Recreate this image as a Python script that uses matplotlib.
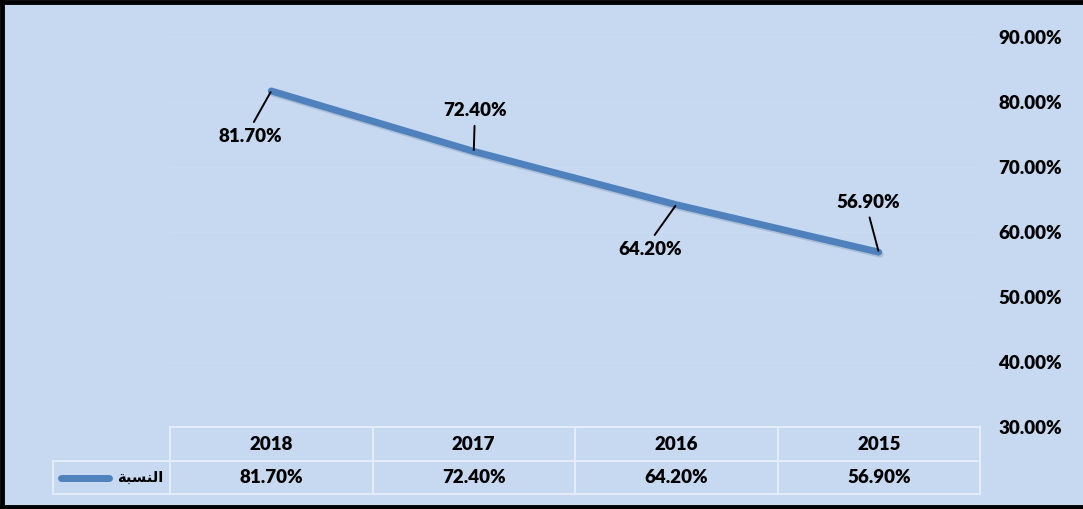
import matplotlib
matplotlib.use("Agg")
import matplotlib.pyplot as plt
from matplotlib.transforms import blended_transform_factory
from matplotlib.lines import Line2D
import matplotlib.patheffects as pe

categories = ["2018", "2017", "2016", "2015"]
values = [81.7, 72.4, 64.2, 56.9]
value_labels = ["81.70%", "72.40%", "64.20%", "56.90%"]
yticks = [30, 40, 50, 60, 70, 80, 90]
ytick_labels = ["30.00%", "40.00%", "50.00%", "60.00%", "70.00%", "80.00%", "90.00%"]
series_name = "\uFE94\uFE92\uFEB4\uFEE8\uFEDF\u0627"  # النسبة (shaped for display)

W, H = 1083, 509
BG = "#C6D9F1"
LINE = "#4F81BD"
GRIDC = "#CADCF2"
TABLEC = "#E3ECF8"
FONT = "Lato"
FS = 13.5
FW = "heavy"

fig = plt.figure(figsize=(W / 100, H / 100), dpi=100)
fig.patch.set_facecolor(BG)

ax = fig.add_axes([170 / W, (H - 427) / H, (980 - 170) / W, (427 - 37) / H])
ax.set_facecolor(BG)
for s in ax.spines.values():
    s.set_visible(False)

x = list(range(len(categories)))
ax.plot(x, values, color=LINE, lw=5, solid_capstyle="round", solid_joinstyle="round",
        path_effects=[pe.SimpleLineShadow(offset=(1, -1.5), shadow_color="#7A8CA8", alpha=0.35),
                      pe.Normal()], zorder=3)
ax.set_xlim(-0.5, len(categories) - 0.5)
ax.set_ylim(30, 90)
ax.set_xticks([])
ax.set_yticks(yticks)
ax.set_yticklabels(ytick_labels, fontsize=FS, fontweight=FW, family=FONT)
ax.yaxis.tick_right()
ax.tick_params(axis="y", length=0, pad=13)
ax.grid(axis="y", color=GRIDC, lw=1)
ax.set_axisbelow(True)

offsets = [(-21, -46), (1, 41), (-26, -45), (-11, 50)]
for xi, v, lab, off in zip(x, values, value_labels, offsets):
    up = off[1] > 0
    ax.annotate(lab, xy=(xi, v), xytext=off, textcoords="offset pixels",
                ha="center", va="center", fontsize=FS, fontweight=FW, family=FONT,
                arrowprops=dict(arrowstyle="-", color="black", lw=1.4,
                                relpos=(0.5, 0.0) if up else (0.5, 1.0),
                                shrinkA=3, shrinkB=1), zorder=4)

# data table below
tr = blended_transform_factory(ax.transData, fig.transFigure)
fy = lambda py: (H - py) / H
fx = lambda px: px / W
row_top, row_mid, row_bot = 427, 461, 494
left_name = 53
edges = [i - 0.5 for i in range(len(categories) + 1)]
fig.add_artist(Line2D([edges[0], edges[-1]], [fy(row_top)] * 2, transform=tr, color=TABLEC, lw=1.5))
fig.add_artist(Line2D([fx(left_name), fx(980)], [fy(row_mid)] * 2, transform=fig.transFigure, color=TABLEC, lw=1.5))
fig.add_artist(Line2D([fx(left_name), fx(980)], [fy(row_bot)] * 2, transform=fig.transFigure, color=TABLEC, lw=1.5))
for e in edges:
    fig.add_artist(Line2D([e, e], [fy(row_top), fy(row_bot)], transform=tr, color=TABLEC, lw=1.5))
fig.add_artist(Line2D([fx(left_name)] * 2, [fy(row_mid), fy(row_bot)], transform=fig.transFigure, color=TABLEC, lw=1.5))
for xi, c, lab in zip(x, categories, value_labels):
    fig.text(xi, fy((row_top + row_mid) / 2), c, transform=tr, ha="center", va="center",
             fontsize=FS, fontweight=FW, family=FONT)
    fig.text(xi, fy((row_mid + row_bot) / 2), lab, transform=tr, ha="center", va="center",
             fontsize=FS, fontweight=FW, family=FONT)
ym = fy((row_mid + row_bot) / 2)
fig.add_artist(Line2D([fx(61), fx(109)], [ym, ym], transform=fig.transFigure, color=LINE, lw=5,
                      solid_capstyle="round"))
fig.text(fx(163), ym, series_name, ha="right", va="center", fontsize=10.5, fontweight="bold",
         family="DejaVu Sans")

# outer border
for xs, ys in [([0, 1], [1 - 1.5 / H] * 2), ([0, 1], [2 / H] * 2), ([1.5 / W] * 2, [0, 1])]:
    fig.add_artist(Line2D(xs, ys, transform=fig.transFigure, color="black", lw=3.5))

fig.savefig("out.png", dpi=100, facecolor=BG)
